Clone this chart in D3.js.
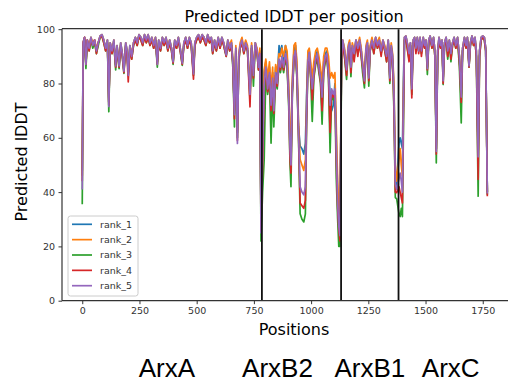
<!DOCTYPE html>
<html><head><meta charset="utf-8">
<script src="https://cdn.jsdelivr.net/npm/d3@7/dist/d3.min.js"></script>
<style>body{margin:0;background:#fff} svg{display:block}</style>
</head><body><svg id="c" width="508" height="387"></svg>
<script>
const positions = [
0,4,10,16,22,30,38,46,54,62, 70,78,86,94,102,110,116,122,130,138, 146,152,161,168,175,182,190,196,201,208,
216,224,232,240,248,256,264,272,280,288, 296,304,312,320,328,334,342,350,358,366, 374,382,390,397,404,412,420,428,437,444,
452,460,468,476,486,492,500,508,516,524, 532,540,548,556,564,570,578,586,594,602, 610,618,629,636,644,652,658,665,671,678,
684,690,698,706,714,722,733,740,748,756, 764,770,776,781,
788,795,802,810,818,825,832,837,845,852, 860,866,872,880,888,895,902,908,912,918, 925,932,938,945,952,960,968,975,980,986,
992,998,1005,1012,1020,1027,1034,1041,1048,1055, 1062,1069,1076,1083,1090,1097,1104,1110,1116,1121, 1126,
1133,1138,1146,1155,1162,1168,1174,1180,1188,1196, 1204,1212,1219,1225,1233,1240,1246,1252,1258,1266,
1274,1282,1290,1298,1306,1314,1322,1330,1337,1344, 1350,1356,1362,1368,1374,
1384,1389,1394,1399,1403,1408,1414,1420,1428,1434, 1440,1446,1452,1458,1464,1470,1476,1482,1490,1496,
1502,1508,1514,1520,1528,1535,1541,1547,1553,1559, 1566,1572,1577,1583,1590,1597,1604,1611,1618,1625,
1632,1640,1648,1656,1662,1670,1677,1683,1690,1696, 1703,1710,1716,1722,1730,1736,1743,1750,1757,1763, 1770];

const rank_1 = [
48,95,97,88,96,93,97,94,96,92, 95,97.5,98,96,93,96,73,95,92,96, 87,94,87,95,91,85,95,92,84,94,
90,95,97,95,98,97,95,98,96,98, 95,97,94,97,88,96,93,97,95,97, 93,96,93,88,96,94,97,93,88,95,
97,94,97,95,84,95,97,98,96,98, 97,95,98,96,97,92,96,93,97,94, 97,95,90.5,96,93,95,88,69,93,62,
90,94,96,92,95,93,78,94,84,95, 92,86,92,30,
58,84,88,80,86,76,84,72,86,82, 94,91,94,88,94,90,78,60,52,80, 92,94,86,64,57,56,54,58,75,90,
92,86,80,86,90,92,88,84,78,88, 91,92,86,76,70,72,80,60,40,30, 26,
90,96,92,85,93,95,86,94,91,96, 93,96,92,87,82,93,95,83,93,96,
93,97,94,96,92,96,93,90,96,83, 94,90,78,48,42,
58,60,58,56,80,97,97.5,95,91,95, 79,96,97,93,97,93,97,92,97,94,
96,86,96,97.5,94,97,92,56,92,97, 94,96,82,95,97,92,96,91,95,97,
94,97,90,76,93,97,94,97,87,95, 97.5,95,97,92,55,92,97,97.5,97,93, 40];

const rank_2 = [
46,95,97,87,96,94,97,95,96,93, 95,97.5,98,96,93,96,73,95,92,96, 87,94,87,95,91,85,95,92,84,94,
91,95,97,95,98,97,95,98,96,98, 95,97,95,97,88,96,93,97,95,97, 94,96,93,88,96,94,97,93,88,95,
97,94,97,95,85,95,97,98,96,98, 97,95,98,96,97,92,96,93,97,94, 97,95,91,96,94,96,89,70,94,63,
91,95,97,93,96,94,79,95,85,95, 93,87,93,32,
60,85,89,82,88,78,86,74,87,84, 91,90,93,90,94,92,80,62,55,82, 94,95,88,66,52,50,48,52,72,92,
93,88,82,88,92,93,90,86,80,90, 93,93,90,82,84,82,84,64,44,34, 30,
92,96,93,86,94,96,87,95,92,96, 94,97,93,88,83,94,96,84,94,97,
94,97,95,97,93,96,94,91,96,84, 95,91,80,50,44,
52,56,50,46,76,97,97.5,95,92,95, 80,96,97,93,97,93,97,92,97,94,
96,86,96,97.5,94,97,92,56,92,97, 94,96,82,95,97,92,96,91,95,97,
94,97,90,76,93,97,94,97,87,95, 97.5,95,97,92,55,92,97,97.5,97,93, 40];

const rank_3 = [
35.5,94,96,85.5,95,92,96,93,95,91, 94,97,97.5,95,92,95,69.6,94,91,95, 85,93,85.5,94,90,83.7,94,91,83,93,
89,94,96,94,97.5,96,94,97,95,97, 94,96,93,96,86,95,92,96,94,96, 92,95,92,87,95,93,96,92,86.7,94,
96,93,96,94,83,94,96,97,95,97, 96,94,97,95,96,91,95,92,96,93, 96,94,90,95,92,94,86,64,92,60,
88,93,95,91,94,92,74,93,79,94, 91,85,90,22,
40,52,84,76,82,58,80,64,82,78, 87,84,88,84,89,86,72,50,42,76, 88,90,82,60,32,30,29,32,64,86,
89,82,66,82,87,89,84,80,65,84, 88,89,82,54.5,76,74,76,45,30,20, 20,
85,95,90,81.5,92,93,82.5,93,89,95, 91,95,90,84,78.4,92,94,79,92,95,
91,96,93,95,91,95,92,88,95,80, 93,88,70,38,37.5,
32,31,34,31,60,96,97,93,89,94, 76,95,96,92,96,92,96,91,96,93,
95,83.3,95,97,93,96,90,50.8,90,96, 93,95,79.6,94,96,89,95,88,94,96,
93,96,86,65.5,92,96,93,96,86,94, 97,94,96,90,38.5,90,96,97,96,92, 39];

const rank_4 = [
44,95,97,87,96,92,96,94,96,91, 95,97,97.5,95,92,95,72,94,91,95, 86,93,86,94,90,84,94,90,80.6,93,
89,94,96,94,97.5,96,94,97,95,97, 94,96,93,96,87,95,92,96,94,96, 92,95,92,87.5,95,93,96,92,87,94,
96,93,96,94,81.6,94,96,97,95,97, 96,94,97,95,96,91,95,92,96,93, 96,94,90,95,92,94,87,67,92,59,
89,93,95,91,94,92,71.4,93,82,94, 91,85,91,26,
50,78,85,77,83,70,81,69,83,79, 88,85,89,85,90,87,74,52,47,77, 89,91,83,61,36,35,34,37,66,87,
90,83,74,83,88,90,85,81,70,85, 89,90,83,62,77,75,77,52,34,26, 22,
88,95,90,83,92,93,84,93,88,95, 90,95,90,86,80,92,94,81,92,95,
91,96,93,95,90,95,92,88,95,81, 93,88,72,40,39.8,
42,40,38,36,66,96,97,93,88,94, 74.7,95,96,91,96,91,96,90,96,93,
95,85,95,97,93,96,90,54,90,96, 93,95,80,94,96,90,95,89,94,96,
93,96,88,73,92,96,93,96,86,94, 97,94,96,90,44.7,90,96,97,96,92, 38.5];

const rank_5 = [
41,95,97,87,96,93,97,94,96,92, 95,97.5,98,96,93,96,71.5,95,92,96, 86.5,94,86.5,95,91,84.5,95,92,83,94,
90,95,97,95,98,97,95,98,96,98, 95,97,94,97,87,96,93,97,95,97, 93,96,93,88,96,94,97,93,87.5,95,
97,94,97,95,83.5,95,97,98,96,98, 97,95,98,96,97,92,96,93,97,94, 97,95,90.5,96,93,95,88,68.5,93,57.9,
90,94,96,92,95,93,76,94,83,95, 92,86,91,25,
55,80,86,78,84,72,82,70,84,80, 89,86,90,86,91,88,75,56,50,78, 90,92,84,62,42,40,39,42,68,88,
91.5,84,78,84,89,91,86,82,75,86, 90,91,84,72,78,76,78,56,36,27.5, 24,
90,96,92,85,93,95,86,94,91,96, 93,96,92,87,81,93,95,82,93,96,
93,97,94,96,92,96,93,90,96,82, 94,90,76,43,41,
45,47,44,40,72,97,97.5,95,91,95, 78,96,97,93,97,92,97,92,97,94,
96,85.5,96,97.5,94,97,92,55,92,97, 94,96,81,95,97,92,96,91,95,97,
94,97,90,75,93,97,94,97,86.5,95, 97.5,95,97,92,53,92,97,97.5,97,93, 39.5];

const seriesNames = ["rank_1","rank_2","rank_3","rank_4","rank_5"];
const seriesValues = [rank_1, rank_2, rank_3, rank_4, rank_5];
const seriesColors = ["#1f77b4","#ff7f0e","#2ca02c","#d62728","#9467bd"];
const xTicks = [0,250,500,750,1000,1250,1500,1750];
const yTicks = [0,20,40,60,80,100];
const domainBoundaries = [785,1131,1382];
const domainLabels = ["ArxA","ArxB2","ArxB1","ArxC"];
const domainLabelAnchors = [370,853,1257,1610];

const svg = d3.select("#c");
const L = 62, R = 526, T = 29.2, B = 300.7;
const x = d3.scaleLinear().domain([-88.5, 1939]).range([L, R]);
const y = d3.scaleLinear().domain([0, 100]).range([B, T]);
const TF = "'DejaVu Sans', sans-serif";

svg.append("defs").append("clipPath").attr("id","clip")
  .append("rect").attr("x",L).attr("y",T).attr("width",R-L).attr("height",B-T);

const plot = svg.append("g").attr("clip-path","url(#clip)");
seriesValues.forEach((vals, k) => {
  const n = Math.min(vals.length, positions.length);
  const line = d3.line().x(i => x(positions[i])).y(i => y(vals[i]));
  plot.append("path").attr("d", line(d3.range(n)))
    .attr("fill","none").attr("stroke",seriesColors[k])
    .attr("stroke-width",1.7).attr("stroke-linejoin","round");
});

domainBoundaries.forEach(b => {
  svg.append("line").attr("x1",x(b)).attr("x2",x(b)).attr("y1",y(0)).attr("y2",y(100))
    .attr("stroke","#111").attr("stroke-width",1.8);
});

const xa = svg.append("g").attr("transform",`translate(0,${B})`)
  .call(d3.axisBottom(x).tickValues(xTicks).tickSize(3.5).tickPadding(3.5).tickFormat(d3.format("d")));
const ya = svg.append("g").attr("transform",`translate(${L},0)`)
  .call(d3.axisLeft(y).tickValues(yTicks).tickSize(3.5).tickPadding(3.5).tickFormat(d3.format("d")));
[xa, ya].forEach(a => {
  a.select(".domain").remove();
  a.selectAll(".tick line").attr("stroke","#333").attr("stroke-width",1);
  a.selectAll(".tick text").attr("font-family",TF).attr("font-size","9.5px").attr("fill","#333");
});
svg.append("line").attr("x1",L).attr("x2",L).attr("y1",T-0.5).attr("y2",B).attr("stroke","#333").attr("stroke-width",1.2);
svg.append("line").attr("x1",L).attr("x2",R).attr("y1",B).attr("y2",B).attr("stroke","#333").attr("stroke-width",1.2);
svg.append("line").attr("x1",L).attr("x2",R).attr("y1",T-0.5).attr("y2",T-0.5).attr("stroke","#333").attr("stroke-width",1.2);

const lg = svg.append("g");
lg.append("rect").attr("x",68).attr("y",216).attr("width",70).attr("height",80).attr("rx",2.5)
  .attr("fill","#fff").attr("fill-opacity",0.85).attr("stroke","#ccc").attr("stroke-width",1);
seriesNames.forEach((nm, k) => {
  const yy = 224.3 + k*15.35;
  lg.append("line").attr("x1",72).attr("x2",92).attr("y1",yy).attr("y2",yy)
    .attr("stroke",seriesColors[k]).attr("stroke-width",1.7);
  lg.append("text").attr("x",100).attr("y",yy).attr("dy","0.35em")
    .attr("font-family",TF).attr("font-size","9.5px").attr("fill","#333").text(nm);
});

const cx = (L + R) / 2;
svg.append("text").attr("x",cx).attr("y",21.7).attr("text-anchor","middle")
  .attr("font-family",TF).attr("font-size","16px").attr("fill","#000").text("Predicted lDDT per position");
svg.append("text").attr("x",cx).attr("y",335).attr("text-anchor","middle")
  .attr("font-family",TF).attr("font-size","16px").attr("fill","#000").text("Positions");
svg.append("text").attr("transform",`translate(26.7,162) rotate(-90)`).attr("text-anchor","middle")
  .attr("font-family",TF).attr("font-size","16px").attr("fill","#000").text("Predicted lDDT");

domainLabels.forEach((lab, i) => {
  svg.append("text").attr("x",x(domainLabelAnchors[i])).attr("y",376.7).attr("text-anchor","middle")
    .attr("font-family","'Liberation Sans', Arial, sans-serif").attr("font-size","26px").attr("fill","#000").text(lab);
});
</script></body></html>
